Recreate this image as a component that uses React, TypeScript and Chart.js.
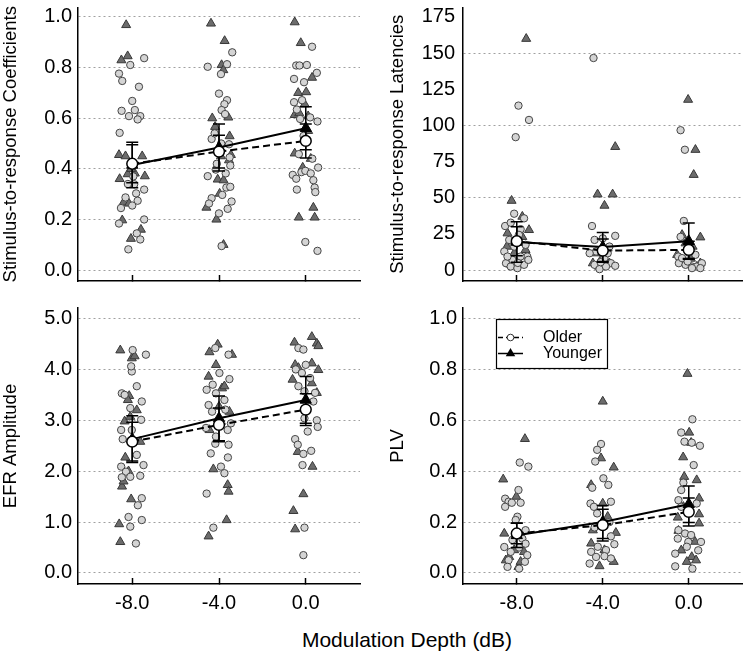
import React, { useEffect, useRef } from 'react';
import { Chart, registerables } from 'chart.js';

Chart.register(...registerables);

// ---------------- data ----------------
const DEPTHS = [-8, -4, 0];
const X_LABEL = 'Modulation Depth (dB)';
const GROUP_LABELS = ['Older', 'Younger'];

// each entry: [jitter offset from depth, value]; one list per depth (-8, -4, 0)
const COEF_YOUNGER = [
  [[-0.28, 0.968], [-0.5, 0.829], [-0.21, 0.845], [-0.61, 0.455], [-0.31, 0.45], [0.46, 0.45], [-0.58, 0.36], [-0.21, 0.379], [0.12, 0.382], [0.58, 0.371], [-0.4, 0.267], [-0.15, 0.263], [-0.46, 0.197], [0.4, 0.16], [-0.06, 0.124], [-0.05, 0.4]],
  [[-0.37, 0.974], [0.26, 0.905], [0.12, 0.81], [0.2, 0.79], [-0.31, 0.6], [0.43, 0.603], [-0.18, 0.566], [0.49, 0.529], [0.55, 0.455], [0.46, 0.434], [0.09, 0.45], [-0.06, 0.358], [0.21, 0.355], [0.03, 0.302], [-0.58, 0.247], [-0.12, 0.2], [0.21, 0.1]],
  [[-0.51, 0.979], [-0.23, 0.897], [0.29, 0.76], [-0.35, 0.7], [0.02, 0.703], [-0.51, 0.613], [-0.05, 0.655], [0.11, 0.608], [0.11, 0.55], [-0.51, 0.461], [0.23, 0.44], [-0.14, 0.405], [0.35, 0.247], [-0.32, 0.208], [0.41, 0.208], [-0.3, 0.62]],
];
const COEF_OLDER = [
  [[0.55, 0.837], [-0.09, 0.81], [-0.61, 0.776], [-0.46, 0.747], [0.31, 0.724], [0, 0.668], [-0.49, 0.629], [-0.15, 0.608], [0.12, 0.632], [0.37, 0.608], [0.25, 0.595], [-0.58, 0.542], [0.18, 0.303], [0.55, 0.318], [-0.31, 0.287], [0.25, 0.274], [-0.52, 0.245], [0, 0.255], [0.55, 0.2], [-0.61, 0.184], [0.21, 0.145], [0.37, 0.121], [-0.18, 0.082], [0.09, 0.339], [-0.2, 0.34], [0.05, 0.37]],
  [[0.61, 0.86], [0.37, 0.813], [-0.52, 0.803], [0.09, 0.774], [0, 0.697], [0.37, 0.671], [0.25, 0.655], [0.12, 0.632], [0.28, 0.616], [-0.34, 0.518], [0.46, 0.497], [0.49, 0.445], [0.52, 0.413], [-0.52, 0.371], [0.31, 0.382], [-0.15, 0.397], [0.34, 0.326], [0.52, 0.329], [0.15, 0.297], [0.58, 0.271], [-0.34, 0.284], [-0.46, 0.263], [0.4, 0.242], [0, 0.224], [0.12, 0.095], [-0.2, 0.54], [0.1, 0.5], [-0.1, 0.42]],
  [[0.29, 0.882], [-0.44, 0.808], [-0.29, 0.808], [0.05, 0.81], [0.51, 0.779], [-0.54, 0.755], [-0.08, 0.742], [-0.54, 0.663], [-0.17, 0.671], [-0.41, 0.634], [-0.26, 0.597], [0.2, 0.603], [0.54, 0.587], [-0.32, 0.458], [0.57, 0.405], [-0.6, 0.376], [-0.44, 0.361], [-0.2, 0.387], [-0.02, 0.392], [0.23, 0.382], [0.35, 0.355], [0.41, 0.326], [0.44, 0.308], [-0.41, 0.318], [-0.02, 0.111], [0.54, 0.076], [0.3, 0.44], [-0.1, 0.53]],
];
const COEF_YOUNGER_MEAN = [0.415, 0.484, 0.56];
const COEF_YOUNGER_ERR = [0.09, 0.093, 0.085];
const COEF_OLDER_MEAN = [0.42, 0.468, 0.51];
const COEF_OLDER_ERR = [0.075, 0.065, 0.067];
const COEF_TICKS = [0, 0.2, 0.4, 0.6, 0.8, 1.0];

const LAT_YOUNGER = [
  [[0.44, 159.9], [-0.24, 48], [0.57, 27.8], [0.26, 37], [-0.43, 25.5], [-0.28, 19.8], [0.41, 14], [-0.46, 16.3], [-0.12, 11.7], [0.26, 23], [0.1, 6], [-0.3, 4]],
  [[-0.24, 52.4], [0.46, 52.4], [0.08, 44.6], [0.58, 85.2], [0.15, 11.7], [-0.46, 4.8], [-0.18, 2.5], [0.31, 4.8], [0, 3], [-0.28, 11.7], [0.23, 15], [-0.05, 8]],
  [[-0.03, 117.8], [0.31, 83.2], [0.23, 65.9], [-0.31, 24.4], [0.54, 22.7], [-0.54, 10.6], [0.54, 4.8], [-0.15, 18.6], [0.18, 16.3], [0.38, 2.5], [-0.3, 5], [0.1, 8]],
];
const LAT_OLDER = [
  [[0.08, 113.7], [0.57, 103.8], [-0.05, 91.9], [-0.54, 30.5], [-0.12, 39], [0.34, 35.8], [-0.28, 32.8], [0.18, 28.3], [-0.58, 12.9], [0.49, 9.4], [-0.5, 4.8], [-0.28, 2.5], [0.03, 1.4], [0.34, 3.7], [0.54, 7.1], [-0.2, 7.1], [0.18, 9.4], [-0.43, 9.4], [-0.12, 16.3], [0.41, 17.5], [-0.35, 20.9], [0.1, 24.4], [0.05, 5]],
  [[-0.43, 146.6], [-0.5, 30.5], [-0.38, 20.9], [0, 22], [0.58, 23.7], [0.31, 16.3], [-0.31, 12.9], [0.08, 8.3], [0.38, 4.8], [0.58, 3], [-0.38, 3.7], [-0.15, 0.7], [0.15, 2.5], [-0.61, 11.7], [0.23, 11.7], [-0.1, 5.5]],
  [[-0.38, 96.7], [-0.18, 83.2], [-0.23, 34], [-0.38, 23], [-0.49, 9.4], [-0.46, 4.8], [-0.15, 3.7], [0.15, 2.5], [0.38, 2.5], [0.61, 4.8], [-0.31, 8.3], [0.31, 10.6], [0.15, 1.4], [0.54, 1.4], [0, 12], [-0.05, 6]],
];
const LAT_YOUNGER_MEAN = [19.5, 16, 20];
const LAT_YOUNGER_ERR = [14, 10, 12.5];
const LAT_OLDER_MEAN = [20, 13.5, 14];
const LAT_OLDER_ERR = [10, 8, 6];
const LAT_TICKS = [0, 25, 50, 75, 100, 125, 150, 175];

const EFR_YOUNGER = [
  [[-0.55, 4.376], [-0.02, 4.22], [0.11, 4.26], [-0.14, 3.48], [-0.2, 3.4], [0.21, 3.2], [-0.35, 2.98], [-0.09, 3.07], [0.37, 2.58], [-0.32, 2.27], [-0.47, 1.7], [-0.4, 1.8], [-0.05, 1.45], [-0.6, 0.96], [-0.55, 0.61], [-0.17, 2.0]],
  [[-0.06, 4.49], [-0.44, 4.34], [0.6, 4.29], [-0.14, 4.09], [-0.48, 3.86], [0.14, 3.63], [0.25, 3.67], [0, 3.27], [0.48, 3.17], [-0.44, 2.81], [-0.26, 2.04], [0.4, 1.73], [0.44, 1.6], [0.35, 1.04], [-0.48, 0.72]],
  [[-0.52, 4.53], [0.28, 4.64], [0.51, 4.51], [0.58, 4.46], [-0.49, 4.09], [-0.34, 4.03], [0.28, 4.12], [0.58, 3.99], [-0.61, 3.8], [0.28, 3.73], [0.51, 3.54], [-0.37, 2.38], [0.31, 2.09], [-0.11, 1.55], [-0.57, 1.22], [-0.49, 0.86]],
];
const EFR_OLDER = [
  [[0.02, 4.38], [0.63, 4.29], [-0.02, 3.96], [-0.05, 4.06], [0.21, 3.67], [-0.48, 3.53], [-0.35, 3.5], [0.44, 3.37], [-0.09, 3.24], [0.41, 3.01], [-0.51, 2.81], [-0.02, 2.81], [-0.44, 2.63], [0.21, 2.32], [0.52, 2.12], [-0.51, 2.09], [-0.29, 1.99], [0.37, 1.91], [-0.48, 1.88], [-0.09, 1.89], [0.44, 1.47], [0.26, 1.33], [-0.17, 1.1], [0.44, 1.04], [-0.09, 0.91], [0.17, 0.58]],
  [[-0.17, 4.42], [0.44, 4.29], [0.02, 3.93], [0.48, 3.81], [-0.57, 3.6], [-0.29, 3.7], [-0.14, 3.53], [0.25, 3.4], [-0.48, 3.3], [-0.32, 3.17], [0.29, 3.21], [0.55, 2.94], [-0.6, 2.85], [0.4, 2.81], [-0.14, 2.68], [-0.17, 2.54], [0.44, 2.52], [-0.38, 2.35], [0.41, 2.27], [0.09, 2.09], [0.25, 1.96], [-0.57, 1.56], [-0.26, 0.89]],
  [[-0.34, 4.42], [-0.11, 4.39], [-0.46, 4.0], [0, 4.09], [-0.18, 3.93], [0.2, 3.83], [-0.34, 3.67], [-0.06, 3.57], [0.43, 3.54], [0.35, 3.37], [-0.06, 3.04], [0.51, 3.0], [0.55, 2.87], [0.09, 2.78], [-0.49, 2.63], [-0.37, 2.52], [0.25, 2.4], [-0.11, 2.34], [-0.15, 2.12], [-0.11, 0.35], [-0.06, 0.89]],
];
const EFR_YOUNGER_MEAN = [2.63, 3.04, 3.4];
const EFR_YOUNGER_ERR = [0.46, 0.44, 0.46];
const EFR_OLDER_MEAN = [2.58, 2.91, 3.21];
const EFR_OLDER_ERR = [0.38, 0.33, 0.31];
const EFR_TICKS = [0, 1, 2, 3, 4, 5];

const PLV_YOUNGER = [
  [[0.38, 0.527], [-0.63, 0.368], [-0.02, 0.3], [-0.58, 0.155], [-0.51, 0.05], [0.08, 0.024], [-0.12, 0.09], [0.34, 0.083], [-0.35, 0.063], [0.18, 0.044]],
  [[0, 0.674], [-0.08, 0.451], [0.51, 0.415], [-0.54, 0.346], [0, 0.273], [0.23, 0.221], [-0.46, 0.168], [0.61, 0.158], [-0.54, 0.116], [0.51, 0.044], [-0.15, 0.027], [0.08, 0.09]],
  [[-0.06, 0.783], [0.02, 0.552], [0.11, 0.512], [-0.26, 0.455], [-0.21, 0.378], [0.37, 0.365], [0.48, 0.293], [-0.25, 0.26], [0.48, 0.231], [-0.51, 0.218], [0.48, 0.195], [-0.48, 0.166], [0.29, 0.123], [-0.35, 0.089], [0.14, 0.063], [-0.09, 0.044], [0.34, 0.05]],
];
const PLV_OLDER = [
  [[0.14, 0.434], [0.54, 0.418], [0.08, 0.326], [-0.54, 0.292], [-0.38, 0.28], [-0.54, 0.26], [0.18, 0.276], [-0.23, 0.276], [0.03, 0.221], [-0.05, 0.208], [0.41, 0.168], [0.26, 0.135], [-0.58, 0.102], [-0.28, 0.083], [0.11, 0.1], [0.49, 0.07], [-0.38, 0.05], [0.38, 0.044], [-0.43, 0.024], [0.11, 0.017], [-0.2, 0.13], [0.41, 0.115]],
  [[-0.08, 0.507], [-0.26, 0.484], [-0.35, 0.438], [0.03, 0.372], [0.26, 0.346], [-0.49, 0.335], [-0.57, 0.273], [-0.41, 0.26], [0.38, 0.28], [-0.26, 0.234], [0.31, 0.2], [-0.38, 0.179], [0.38, 0.144], [0.54, 0.113], [-0.23, 0.103], [0.15, 0.09], [-0.54, 0.083], [0.08, 0.066], [-0.31, 0.063], [0.38, 0.057], [-0.61, 0.037]],
  [[0.17, 0.604], [-0.35, 0.552], [-0.2, 0.516], [0.52, 0.5], [0.14, 0.512], [0.23, 0.424], [-0.25, 0.355], [-0.35, 0.326], [-0.48, 0.286], [-0.35, 0.26], [0.37, 0.273], [-0.48, 0.168], [-0.17, 0.155], [0.11, 0.149], [-0.51, 0.135], [0.57, 0.122], [-0.02, 0.122], [-0.63, 0.076], [0.44, 0.089], [-0.63, 0.026], [0.17, 0.017], [-0.09, 0.103]],
];
const PLV_YOUNGER_MEAN = [0.148, 0.2, 0.27];
const PLV_YOUNGER_ERR = [0.048, 0.065, 0.072];
const PLV_OLDER_MEAN = [0.155, 0.188, 0.24];
const PLV_OLDER_ERR = [0.04, 0.062, 0.055];
const PLV_TICKS = [0, 0.2, 0.4, 0.6, 0.8, 1.0];

// ---------------- styling ----------------
const FONT = "'Liberation Sans', Arial, Helvetica, sans-serif";
const TICK_FONT = { family: FONT, size: 20 };
const TITLE_FONT = { family: FONT, size: 18.5 };
const CIRCLE_FILL = '#d4d4d4';
const CIRCLE_EDGE = '#454545';
const TRI_FILL = '#6c6c6c';
const TRI_EDGE = '#383838';
const GRID_COLOR = '#a0a0a0';

type Panel = {
  key: string;
  title: string;
  older: number[][][];
  younger: number[][][];
  olderMean: number[];
  olderErr: number[];
  youngerMean: number[];
  youngerErr: number[];
  ticks: number[];
  gridStep: number;
  decimals: number;
  yMin: number;
  yMax: number;
  showX: boolean;
  legend: boolean;
  x: number;
  y: number;
  w: number;
  h: number;
  padLeft: number;
  area: { l: number; t: number; r: number; b: number };
  tickPad: number;
};

const PANELS: Panel[] = [
  {
    key: 'coef', title: 'Stimulus-to-response Coefficients',
    older: COEF_OLDER, younger: COEF_YOUNGER,
    olderMean: COEF_OLDER_MEAN, olderErr: COEF_OLDER_ERR, youngerMean: COEF_YOUNGER_MEAN, youngerErr: COEF_YOUNGER_ERR,
    ticks: COEF_TICKS, gridStep: 0.2, decimals: 1, yMin: -0.043, yMax: 1.037,
    showX: false, legend: false,
    x: 0, y: 0, w: 375, h: 300, padLeft: 0, area: { l: 78, t: 7, r: 360, b: 281 }, tickPad: 6,
  },
  {
    key: 'lat', title: 'Stimulus-to-response Latencies',
    older: LAT_OLDER, younger: LAT_YOUNGER,
    olderMean: LAT_OLDER_MEAN, olderErr: LAT_OLDER_ERR, youngerMean: LAT_YOUNGER_MEAN, youngerErr: LAT_YOUNGER_ERR,
    ticks: LAT_TICKS, gridStep: 50, decimals: 0, yMin: -7.5, yMax: 181.5,
    showX: false, legend: false,
    x: 375, y: 0, w: 375, h: 300, padLeft: 12, area: { l: 88, t: 7, r: 369, b: 281 }, tickPad: 8,
  },
  {
    key: 'efr', title: 'EFR Amplitude',
    older: EFR_OLDER, younger: EFR_YOUNGER,
    olderMean: EFR_OLDER_MEAN, olderErr: EFR_OLDER_ERR, youngerMean: EFR_YOUNGER_MEAN, youngerErr: EFR_YOUNGER_ERR,
    ticks: EFR_TICKS, gridStep: 1, decimals: 1, yMin: -0.217, yMax: 5.207,
    showX: true, legend: false,
    x: 0, y: 300, w: 375, h: 325, padLeft: 0, area: { l: 78, t: 8, r: 360, b: 284 }, tickPad: 6,
  },
  {
    key: 'plv', title: 'PLV',
    older: PLV_OLDER, younger: PLV_YOUNGER,
    olderMean: PLV_OLDER_MEAN, olderErr: PLV_OLDER_ERR, youngerMean: PLV_YOUNGER_MEAN, youngerErr: PLV_YOUNGER_ERR,
    ticks: PLV_TICKS, gridStep: 0.2, decimals: 1, yMin: -0.0434, yMax: 1.0414,
    showX: true, legend: true,
    x: 375, y: 300, w: 375, h: 325, padLeft: 12, area: { l: 88, t: 8, r: 369, b: 284 }, tickPad: 6,
  },
];

const toPoints = (groups: number[][][]) =>
  groups.flatMap((g, i) => g.map(([dx, v]) => ({ x: DEPTHS[i] + dx, y: v })));
const toMeans = (m: number[]) => m.map((v, i) => ({ x: DEPTHS[i], y: v }));

const errorBarPlugin = {
  id: 'errorBars',
  afterDatasetDraw(chart: any, args: any, opts: any) {
    if (args.index !== opts.afterIndex) return;
    const { ctx } = chart;
    const xs = chart.scales.x;
    const ys = chart.scales.y;
    const cap = 6;
    ctx.save();
    ctx.strokeStyle = '#000';
    ctx.lineWidth = 1.5;
    ctx.setLineDash([]);
    for (const g of opts.groups) {
      g.mean.forEach((m: number, i: number) => {
        const px = xs.getPixelForValue(DEPTHS[i]);
        const top = ys.getPixelForValue(m + g.err[i]);
        const bot = ys.getPixelForValue(m - g.err[i]);
        ctx.beginPath();
        ctx.moveTo(px, top);
        ctx.lineTo(px, bot);
        ctx.moveTo(px - cap, top);
        ctx.lineTo(px + cap, top);
        ctx.moveTo(px - cap, bot);
        ctx.lineTo(px + cap, bot);
        ctx.stroke();
      });
    }
    ctx.restore();
  },
};

const boxLegendPlugin = {
  id: 'boxLegend',
  afterDraw(chart: any, _args: any, opts: any) {
    if (!opts || !opts.show) return;
    const { ctx, chartArea: a } = chart;
    const bx = a.left + 33;
    const by = a.top + 11;
    const bw = 111;
    const bh = 49;
    ctx.save();
    ctx.fillStyle = '#fff';
    ctx.fillRect(bx, by, bw, bh);
    ctx.strokeStyle = '#000';
    ctx.lineWidth = 1.2;
    ctx.strokeRect(bx + 0.5, by + 0.5, bw, bh);
    const rows = [by + 18.5, by + 34.5];
    // Older: dashed line + open circle
    ctx.lineWidth = 1.5;
    ctx.setLineDash([5, 3]);
    ctx.beginPath();
    ctx.moveTo(bx + 2, rows[0]);
    ctx.lineTo(bx + 27, rows[0]);
    ctx.stroke();
    ctx.setLineDash([]);
    ctx.beginPath();
    ctx.arc(bx + 14.5, rows[0], 3.3, 0, Math.PI * 2);
    ctx.fillStyle = '#fff';
    ctx.fill();
    ctx.lineWidth = 1;
    ctx.strokeStyle = '#333';
    ctx.stroke();
    // Younger: solid line + filled triangle
    ctx.strokeStyle = '#000';
    ctx.lineWidth = 1.5;
    ctx.beginPath();
    ctx.moveTo(bx + 2, rows[1]);
    ctx.lineTo(bx + 27, rows[1]);
    ctx.stroke();
    const r = 5.5;
    const cx = bx + 14.5;
    const cy = rows[1];
    ctx.beginPath();
    for (let k = 0; k < 3; k++) {
      const ang = (k * 2 * Math.PI) / 3;
      const px = cx + Math.sin(ang) * r;
      const py = cy - Math.cos(ang) * r;
      if (k === 0) ctx.moveTo(px, py); else ctx.lineTo(px, py);
    }
    ctx.closePath();
    ctx.fillStyle = '#000';
    ctx.fill();
    ctx.fillStyle = '#000';
    ctx.font = `16px ${FONT}`;
    ctx.textBaseline = 'middle';
    ctx.textAlign = 'left';
    ctx.fillText(opts.labels[0], bx + 47, rows[0]);
    ctx.fillText(opts.labels[1], bx + 47, rows[1]);
    ctx.restore();
  },
};

function buildConfig(p: Panel): any {
  const isGrid = (v: number) => Math.abs(v / p.gridStep - Math.round(v / p.gridStep)) < 1e-6;
  return {
    type: 'scatter',
    data: {
      datasets: [
        {
          label: 'younger points', data: toPoints(p.younger), order: 6,
          pointStyle: 'triangle', pointRadius: 5.2, pointBackgroundColor: TRI_FILL,
          pointBorderColor: TRI_EDGE, pointBorderWidth: 1, showLine: false,
        },
        {
          label: 'older points', data: toPoints(p.older), order: 5,
          pointStyle: 'circle', pointRadius: 3.7, pointBackgroundColor: CIRCLE_FILL,
          pointBorderColor: CIRCLE_EDGE, pointBorderWidth: 1, showLine: false,
        },
        {
          label: 'older line', data: toMeans(p.olderMean), order: 4, showLine: true,
          borderColor: '#000', borderWidth: 2, borderDash: [7, 4], pointRadius: 0,
        },
        {
          label: 'younger line', data: toMeans(p.youngerMean), order: 3, showLine: true,
          borderColor: '#000', borderWidth: 2, pointRadius: 0,
        },
        {
          label: 'younger mean', data: toMeans(p.youngerMean), order: 2, showLine: false,
          pointStyle: 'triangle', pointRadius: 6.5, pointBackgroundColor: '#000',
          pointBorderColor: '#000', pointBorderWidth: 1,
        },
        {
          label: 'older mean', data: toMeans(p.olderMean), order: 1, showLine: false,
          pointStyle: 'circle', pointRadius: 5.4, pointBackgroundColor: '#fff',
          pointBorderColor: '#000', pointBorderWidth: 1.5,
        },
      ],
    },
    options: {
      responsive: false,
      animation: false,
      devicePixelRatio: 1,
      events: [],
      layout: { padding: { left: p.padLeft, top: p.area.t, right: p.w - p.area.r, bottom: 0 } },
      plugins: {
        legend: { display: false },
        tooltip: { enabled: false },
        errorBars: {
          afterIndex: 3,
          groups: [
            { mean: p.olderMean, err: p.olderErr },
            { mean: p.youngerMean, err: p.youngerErr },
          ],
        },
        boxLegend: { show: p.legend, labels: GROUP_LABELS },
      },
      scales: {
        x: {
          type: 'linear',
          min: -10.5,
          max: 2.5,
          afterBuildTicks: (s: any) => { s.ticks = DEPTHS.map((v) => ({ value: v })); },
          afterFit: (s: any) => { s.height = p.h - p.area.b; s.paddingLeft = 0; s.paddingRight = 0; },
          grid: {
            display: true, drawOnChartArea: false, drawTicks: true, tickLength: -6,
            color: '#000', tickColor: '#000', tickWidth: 1.5,
          },
          border: { display: true, color: '#000', width: 1.5 },
          ticks: {
            display: p.showX, padding: 13, font: TICK_FONT, color: '#000',
            maxRotation: 0, autoSkip: false,
            callback: (v: any) => Number(v).toFixed(1),
          },
        },
        y: {
          type: 'linear',
          min: p.yMin,
          max: p.yMax,
          afterBuildTicks: (s: any) => { s.ticks = p.ticks.map((v) => ({ value: v })); },
          afterFit: (s: any) => { s.width = p.area.l - p.padLeft; s.paddingTop = 0; s.paddingBottom = 0; },
          grid: {
            drawTicks: false,
            lineWidth: 1,
            color: (c: any) => (c.tick && isGrid(c.tick.value) ? GRID_COLOR : 'rgba(0,0,0,0)'),
          },
          border: { display: true, color: '#000', width: 1.5, dash: [2, 3] },
          ticks: {
            padding: p.tickPad, font: TICK_FONT, color: '#000', autoSkip: false,
            callback: (v: any) => Number(v).toFixed(p.decimals),
          },
          title: {
            display: true, text: p.title, font: TITLE_FONT, color: '#000',
            padding: { top: 0, bottom: 0 },
          },
        },
      },
    },
    plugins: [errorBarPlugin, boxLegendPlugin],
  };
}

function PanelChart({ p }: { p: Panel }) {
  const ref = useRef<HTMLCanvasElement | null>(null);
  useEffect(() => {
    if (!ref.current) return;
    const chart = new Chart(ref.current, buildConfig(p));
    return () => chart.destroy();
  }, [p]);
  return (
    <canvas
      ref={ref}
      width={p.w}
      height={p.h}
      style={{ position: 'absolute', left: p.x, top: p.y, width: p.w, height: p.h }}
    />
  );
}

export default function App() {
  return (
    <div style={{ position: 'absolute', left: 0, top: 0, width: 750, height: 652, background: '#fff', overflow: 'hidden' }}>
      {PANELS.map((p) => (
        <PanelChart key={p.key} p={p} />
      ))}
      <div
        style={{
          position: 'absolute', left: 257, top: 628, width: 300, textAlign: 'center',
          fontFamily: FONT, fontSize: 21, lineHeight: '24px', color: '#000',
        }}
      >
        {X_LABEL}
      </div>
    </div>
  );
}
